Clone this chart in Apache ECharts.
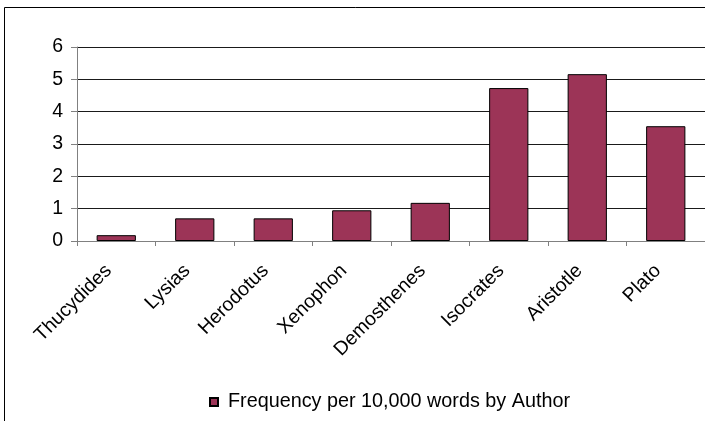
<!DOCTYPE html>
<html>
<head>
<meta charset="utf-8">
<script src="https://cdn.jsdelivr.net/npm/echarts@6/dist/echarts.min.js"></script>
<style>
  html, body { margin: 0; padding: 0; background: #fff; }
  #chart { width: 705px; height: 421px; }
</style>
</head>
<body>
<div id="chart"></div>
<script>
// Word frequency per 10,000 words, by author
const authors = ['Thucydides', 'Lysias', 'Herodotus', 'Xenophon', 'Demosthenes', 'Isocrates', 'Aristotle', 'Plato'];
const frequency = [0.18, 0.70, 0.70, 0.95, 1.18, 4.73, 5.16, 3.55];
const seriesName = 'Frequency per 10,000 words by Author';
const yTicks = { min: 0, max: 6, interval: 1 };

const FONT = "'Liberation Sans', Arial, sans-serif";
const chart = echarts.init(document.getElementById('chart'), null, { renderer: 'canvas' });

chart.setOption({
  animation: false,
  backgroundColor: '#ffffff',
  graphic: [{
    // chart-area frame (runs off the right and bottom edges)
    type: 'rect',
    shape: { x: 4.5, y: 7.5, width: 900, height: 600 },
    style: { fill: 'none', stroke: '#000', lineWidth: 1 },
    silent: true
  }],
  grid: { left: 77, right: 0, top: 47, bottom: 180, containLabel: false },
  legend: {
    data: [seriesName],
    left: 204,
    top: 387,
    itemWidth: 8,
    itemHeight: 8,
    icon: 'rect',
    textStyle: { fontFamily: FONT, fontSize: 19.8, color: '#000', padding: [0, 0, 0, 5] }
  },
  xAxis: {
    type: 'category',
    data: authors,
    boundaryGap: true,
    axisLine: { show: true, lineStyle: { color: '#808080', width: 1 } },
    axisTick: { show: true, length: 5, alignWithLabel: false, lineStyle: { color: '#808080' } },
    axisLabel: {
      interval: 0,
      rotate: 45,
      margin: 19,
      padding: [0, 11, 0, 0],
      fontFamily: FONT,
      fontSize: 19.5,
      color: '#000'
    },
    splitLine: { show: false }
  },
  yAxis: {
    type: 'value',
    min: yTicks.min,
    max: yTicks.max,
    interval: yTicks.interval,
    axisLine: { show: true, lineStyle: { color: '#808080', width: 1 } },
    axisTick: { show: true, length: 6, lineStyle: { color: '#808080' } },
    axisLabel: { margin: 14, fontFamily: FONT, fontSize: 19.5, color: '#000' },
    splitLine: { show: true, lineStyle: { color: '#1a1a1a', width: 1 } }
  },
  series: [{
    name: seriesName,
    type: 'bar',
    data: frequency,
    barWidth: '50%',
    itemStyle: { color: '#9c3457', borderColor: '#000', borderWidth: 1 }
  }]
});
</script>
</body>
</html>
